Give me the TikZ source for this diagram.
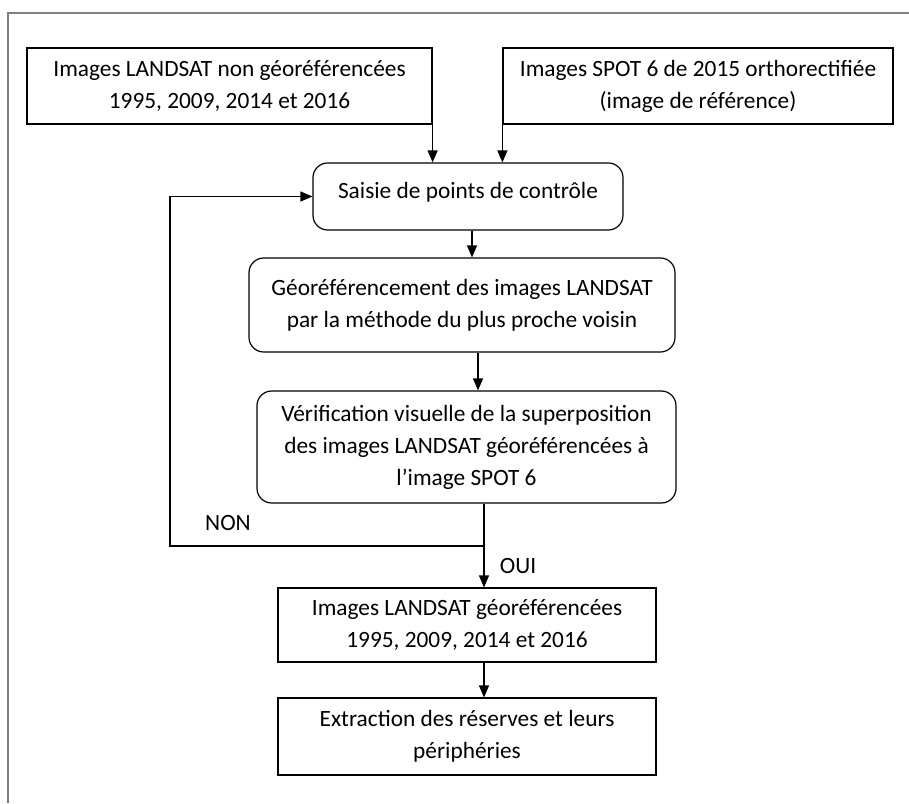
\documentclass[tikz,border=0pt]{standalone}
\usepackage{fontspec}
\setmainfont{Carlito}
\usepackage{tikz}
\usetikzlibrary{arrows.meta,calc}
\definecolor{framegray}{HTML}{7F7F7F}

\begin{document}
\begin{tikzpicture}[
  x=0.75pt,y=-0.75pt,
  box/.style={draw,align=center,inner sep=3pt,line width=0.9pt,
              font=\fontsize{17.5}{24}\selectfont},
  rbox/.style={box,rounded corners=11pt},
  lbl/.style={font=\fontsize{17.5}{24}\selectfont},
  arr/.style={-{Triangle[length=9pt,width=7.5pt]},line width=0.9pt}
]
\useasboundingbox (0,0) rectangle (909,803);
\draw[framegray,line width=1.5pt] (8,803) -- (8,13) -- (909,13);
\node[box,minimum width=303.75pt,minimum height=57pt] (landsat) at (229.5,86)
  {Images LANDSAT non géoréférencées\\1995, 2009, 2014 et 2016};
\node[box,minimum width=292.5pt,minimum height=57pt] (spot) at (698,86)
  {Images SPOT 6 de 2015 orthorectifiée\\(image de référence)};
\node[rbox,minimum width=232.5pt,minimum height=50.25pt] (saisie) at (468,196.5)
  {Saisie de points de contrôle\\[-15pt]};
\node[rbox,minimum width=319.5pt,minimum height=70.5pt] (georef) at (462,305)
  {Géoréférencement des images LANDSAT\\par la méthode du plus proche voisin};
\node[rbox,minimum width=314.25pt,minimum height=84pt] (verif) at (466.5,447)
  {Vérification visuelle de la superposition\\des images LANDSAT géoréférencées à\\l’image SPOT 6};
\node[box,minimum width=283.5pt,minimum height=55.5pt] (result) at (467,625)
  {Images LANDSAT géoréférencées\\1995, 2009, 2014 et 2016};
\node[box,minimum width=283.5pt,minimum height=57.75pt] (extract) at (467,736.5)
  {Extraction des réserves et leurs\\périphéries};
\coordinate (split) at (484,546);
\coordinate (loop) at (170,546);
\node[lbl] (non) at (228,523) {NON};
\node[lbl] (oui) at (518,566) {OUI};
\draw[arr] (landsat.south east) -- (landsat.south east |- saisie.north);
\draw[arr] (spot.south west) -- (spot.south west |- saisie.north);
\draw[arr] ([xshift=3pt]saisie.south) -- ([xshift=3pt]saisie.south |- georef.north);
\draw[arr] ([xshift=12pt]georef.south) -- ([xshift=12pt]georef.south |- verif.north);
\draw[line width=0.9pt] (split |- verif.south) -- (split);
\draw[arr] (split) -- (split |- result.north);
\draw[arr] (split) -- (loop) |- (saisie.west);
\draw[arr] (split |- result.south) -- (split |- extract.north);
\end{tikzpicture}
\end{document}
